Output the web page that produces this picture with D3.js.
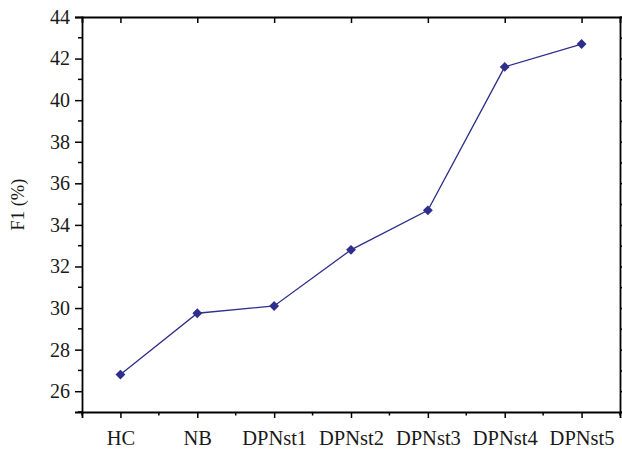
<!DOCTYPE html>
<html>
<head>
<meta charset="utf-8">
<script src="https://cdn.jsdelivr.net/npm/d3@7"></script>
<style>
  body { margin: 0; background: #fff; }
  text { font-family: "Liberation Serif", "Times New Roman", serif; }
</style>
</head>
<body>
<div id="container"></div>
<script>
// DATA
const categories = ["HC", "NB", "DPNst1", "DPNst2", "DPNst3", "DPNst4", "DPNst5"]
const f1Values = [26.8, 29.75, 30.1, 32.8, 34.7, 41.6, 42.7]
const yTicks = [26, 28, 30, 32, 34, 36, 38, 40, 42, 44]
const yMinorTicks = [25, 27, 29, 31, 33, 35, 37, 39, 41, 43]
const yLabel = "F1 (%)"

// VARIABLES
const width = 622,
      height = 449,
      margin = {top: 17, bottom: 37, left: 82, right: 2}

const lineColor = "#2e2e8c"

// SCALES
const xScale = d3.scalePoint()
    .domain(categories)
    .range([margin.left, width - margin.right])
    .padding(0.5)

const yScale = d3.scaleLinear()
    .domain([25, 44])
    .range([height - margin.bottom, margin.top])

// ELEMENTS
const svg = d3.select("#container")
    .append("svg")
    .attr("width", width)
    .attr("height", height)

const step = xScale.step()
const xMinor = categories.slice(0, -1).map(c => xScale(c) + step / 2)
  .concat([xScale(categories[0]) - step / 2, xScale(categories[categories.length - 1]) + step / 2])

// bottom axis
const bottomAxis = svg.append("g")
    .attr("transform", `translate(0,${height - margin.bottom})`)
bottomAxis.call(d3.axisBottom(xScale).tickSize(6).tickPadding(12))
bottomAxis.append("g").selectAll("line").data(xMinor).join("line")
    .attr("x1", d => d).attr("x2", d => d)
    .attr("y1", 0).attr("y2", 3.5)
    .attr("stroke", "#000").attr("stroke-width", 1.5)

// top axis (inward ticks)
const topAxis = svg.append("g")
    .attr("transform", `translate(0,${margin.top})`)
topAxis.call(d3.axisTop(xScale).tickSize(-6).tickFormat(""))

// left axis
const leftAxis = svg.append("g")
    .attr("transform", `translate(${margin.left},0)`)
leftAxis.call(d3.axisLeft(yScale).tickValues(yTicks).tickSize(7).tickPadding(5))
leftAxis.append("g").selectAll("line").data(yMinorTicks).join("line")
    .attr("x1", 0).attr("x2", -4)
    .attr("y1", d => yScale(d)).attr("y2", d => yScale(d))
    .attr("stroke", "#000").attr("stroke-width", 1.5)

// right axis
const rightAxis = svg.append("g")
    .attr("transform", `translate(${width - margin.right},0)`)
rightAxis.call(d3.axisRight(yScale).tickValues(yTicks.concat(yMinorTicks)).tickSize(5).tickFormat(""))

svg.selectAll(".domain").attr("stroke-width", 1.8)
svg.selectAll(".tick line").attr("stroke-width", 1.5)
svg.selectAll(".tick text")
    .attr("fill", "#1a1a1a")
    .style("font-family", "'Liberation Serif', serif")
bottomAxis.selectAll(".tick text").style("font-size", "20.5px")
leftAxis.selectAll(".tick text").style("font-size", "20px")

// y label
svg.append("text")
    .attr("transform", `translate(24,${(margin.top + height - margin.bottom) / 2 - 10}) rotate(-90)`)
    .attr("text-anchor", "middle")
    .attr("fill", "#1a1a1a")
    .style("font-size", "18.5px")
    .text(yLabel)

// LINE
const line = d3.line()
    .x((d, i) => xScale(categories[i]))
    .y(d => yScale(d))

svg.append("path")
    .datum(f1Values)
    .attr("fill", "none")
    .attr("stroke", lineColor)
    .attr("stroke-width", 1.3)
    .attr("d", line)

svg.selectAll(".marker")
    .data(f1Values)
    .join("path")
    .attr("class", "marker")
    .attr("transform", (d, i) => `translate(${xScale(categories[i])},${yScale(d)})`)
    .attr("d", d3.symbol().type(d3.symbolDiamond2).size(62))
    .attr("fill", lineColor)
</script>
</body>
</html>
